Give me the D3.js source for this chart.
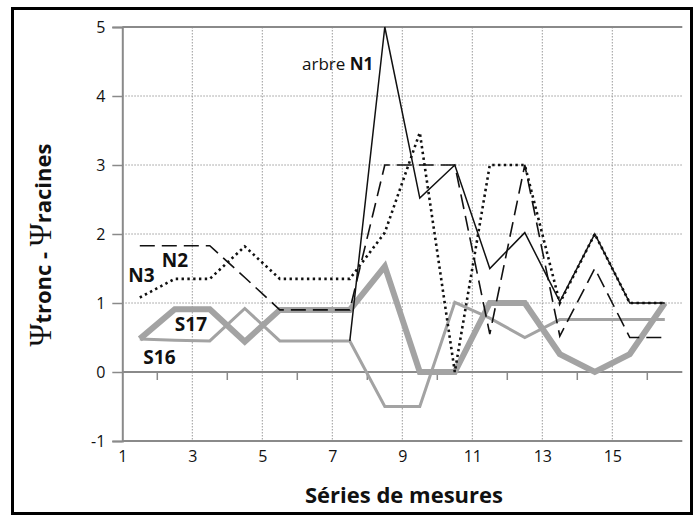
<!DOCTYPE html>
<html>
<head>
<meta charset="utf-8">
<script src="https://cdn.jsdelivr.net/npm/d3@7"></script>
<style>
  html, body { margin: 0; padding: 0; background: #fff; }
  svg { display: block; }
  text { font-family: "Open Sans", "Noto Sans", sans-serif; fill: #111; }
</style>
</head>
<body>
<script>
// ---- data ----
const positions = [1.5, 2.5, 3.5, 4.5, 5.5, 6.5, 7.5, 8.5, 9.5, 10.5, 11.5, 12.5, 13.5, 14.5, 15.5, 16.5];
const N1  = [null, null, null, null, null, null, 0.45, 5.0, 2.52, 3.0, 1.5, 2.02, 1.02, 2.0, 1.0, 1.0];
const N2  = [1.83, 1.83, 1.83, 1.37, 0.9, 0.9, 0.9, 3.0, 3.0, 3.0, 0.55, 3.0, 0.52, 1.5, 0.5, 0.5];
const N3  = [1.08, 1.35, 1.35, 1.82, 1.35, 1.35, 1.35, 2.02, 3.47, 0.0, 3.0, 3.0, 1.0, 2.0, 1.0, 1.0];
const S17 = [0.48, 0.91, 0.91, 0.44, 0.9, 0.9, 0.9, 1.53, 0.0, 0.0, 1.0, 1.0, 0.26, 0.0, 0.26, 1.0];
const S16 = [0.48, 0.46, 0.45, 0.92, 0.45, 0.45, 0.45, -0.5, -0.5, 1.01, 0.78, 0.5, 0.76, 0.76, 0.76, 0.76];
const xTickLabels = [1, 3, 5, 7, 9, 11, 13, 15];
const xMinorTicks = [2, 4, 6, 8, 10, 12, 14, 16];
const yTicks = [-1, 0, 1, 2, 3, 4, 5];
const yGrid = [1, 2, 3, 4];
const xGrid = [3, 5, 7, 9, 11, 13, 15];

const W = 694, H = 516;
const svg = d3.select("body").append("svg").attr("width", W).attr("height", H);

// frame
svg.append("rect").attr("x", 12.5).attr("y", 8.5).attr("width", 679).attr("height", 505)
  .attr("fill", "#fff").attr("stroke", "#000").attr("stroke-width", 3);

const x = d3.scaleLinear().domain([1, 17]).range([122.3, 682.3]);
const y = d3.scaleLinear().domain([-1, 5]).range([441, 27]);

const axisColor = "#8a8a8a";
const fmt = d => String(d);

// grid
svg.append("g").selectAll("line").data(yGrid).join("line")
  .attr("x1", x(1)).attr("x2", x(17)).attr("y1", d => y(d)).attr("y2", d => y(d))
  .attr("stroke", "#9a9a9a").attr("stroke-width", 1).attr("stroke-dasharray", "1.5,1.5");
svg.append("g").selectAll("line").data(xGrid).join("line")
  .attr("x1", d => x(d)).attr("x2", d => x(d)).attr("y1", y(5)).attr("y2", y(-1))
  .attr("stroke", "#9a9a9a").attr("stroke-width", 1).attr("stroke-dasharray", "1.5,1.5");

// solid horizontal lines at 5, 0, -1
[5, 0, -1].forEach(v => {
  svg.append("line").attr("x1", x(1)).attr("x2", x(17)).attr("y1", y(v)).attr("y2", y(v))
    .attr("stroke", axisColor).attr("stroke-width", 2);
});

// y axis
const yAxis = d3.axisLeft(y).tickValues(yTicks).tickSize(10).tickPadding(7).tickFormat(fmt);
const gy = svg.append("g").attr("transform", `translate(${x(1)},0)`).call(yAxis);
gy.select(".domain").attr("stroke", axisColor).attr("stroke-width", 2);
gy.selectAll(".tick line").attr("stroke", axisColor).attr("stroke-width", 1.5);
gy.selectAll(".tick text").attr("font-size", 16).attr("font-family", "Open Sans").attr("fill", "#222");

// minor ticks on zero line
svg.append("g").selectAll("line").data(xMinorTicks).join("line")
  .attr("x1", d => x(d)).attr("x2", d => x(d)).attr("y1", y(0)).attr("y2", y(0) + 8)
  .attr("stroke", axisColor).attr("stroke-width", 1.5);

// x tick labels at bottom
const xAxis = d3.axisBottom(x).tickValues(xTickLabels).tickSize(0).tickPadding(10).tickFormat(fmt);
const gx = svg.append("g").attr("transform", `translate(0,${y(-1)})`).call(xAxis);
gx.select(".domain").remove();
gx.selectAll(".tick text").attr("font-size", 16).attr("font-family", "Open Sans").attr("fill", "#222");

// lines
const pts = arr => arr.map((v, i) => [positions[i], v]);
const line = d3.line().defined(d => d[1] !== null).x(d => x(d[0])).y(d => y(d[1]));

const series = [
  { data: S16, stroke: "#a3a3a3", width: 3, dash: null },
  { data: S17, stroke: "#a3a3a3", width: 6, dash: null },
  { data: N3, stroke: "#111", width: 2.6, dash: "2.4,3.4" },
  { data: N2, stroke: "#111", width: 1.6, dash: "15,7" },
  { data: N1, stroke: "#111", width: 1.5, dash: null }
];
series.forEach(s => {
  svg.append("path").datum(pts(s.data)).attr("d", line)
    .attr("fill", "none").attr("stroke", s.stroke).attr("stroke-width", s.width)
    .attr("stroke-linejoin", "miter").attr("stroke-dasharray", s.dash);
});

// labels
const t1 = svg.append("text").attr("x", x(8.17)).attr("y", y(4.37)).attr("text-anchor", "end").attr("font-size", 17);
t1.append("tspan").text("arbre ");
t1.append("tspan").attr("font-weight", "bold").text("N1");

const lab = (txt, xv, yv) => svg.append("text").attr("x", x(xv)).attr("y", y(yv))
  .attr("font-size", 19).attr("font-weight", "bold").text(txt);
lab("N2", 2.13, 1.52);
lab("N3", 1.17, 1.30);
lab("S17", 2.5, 0.59);
lab("S16", 1.6, 0.11);

// axis titles
svg.append("text").attr("x", 404).attr("y", 503).attr("text-anchor", "middle")
  .attr("font-size", 22).attr("font-weight", "bold").text("Séries de mesures");

const yt = svg.append("text").attr("transform", "translate(51,245) rotate(-90)").attr("text-anchor", "middle");
yt.append("tspan").attr("font-family", "Liberation Serif, DejaVu Serif, serif").attr("font-size", 31).text("Ψ");
yt.append("tspan").attr("font-size", 22).attr("font-weight", "bold").text("tronc - ");
yt.append("tspan").attr("font-family", "Liberation Serif, DejaVu Serif, serif").attr("font-size", 31).text("Ψ");
yt.append("tspan").attr("font-size", 22).attr("font-weight", "bold").text("racines");
</script>
</body>
</html>
